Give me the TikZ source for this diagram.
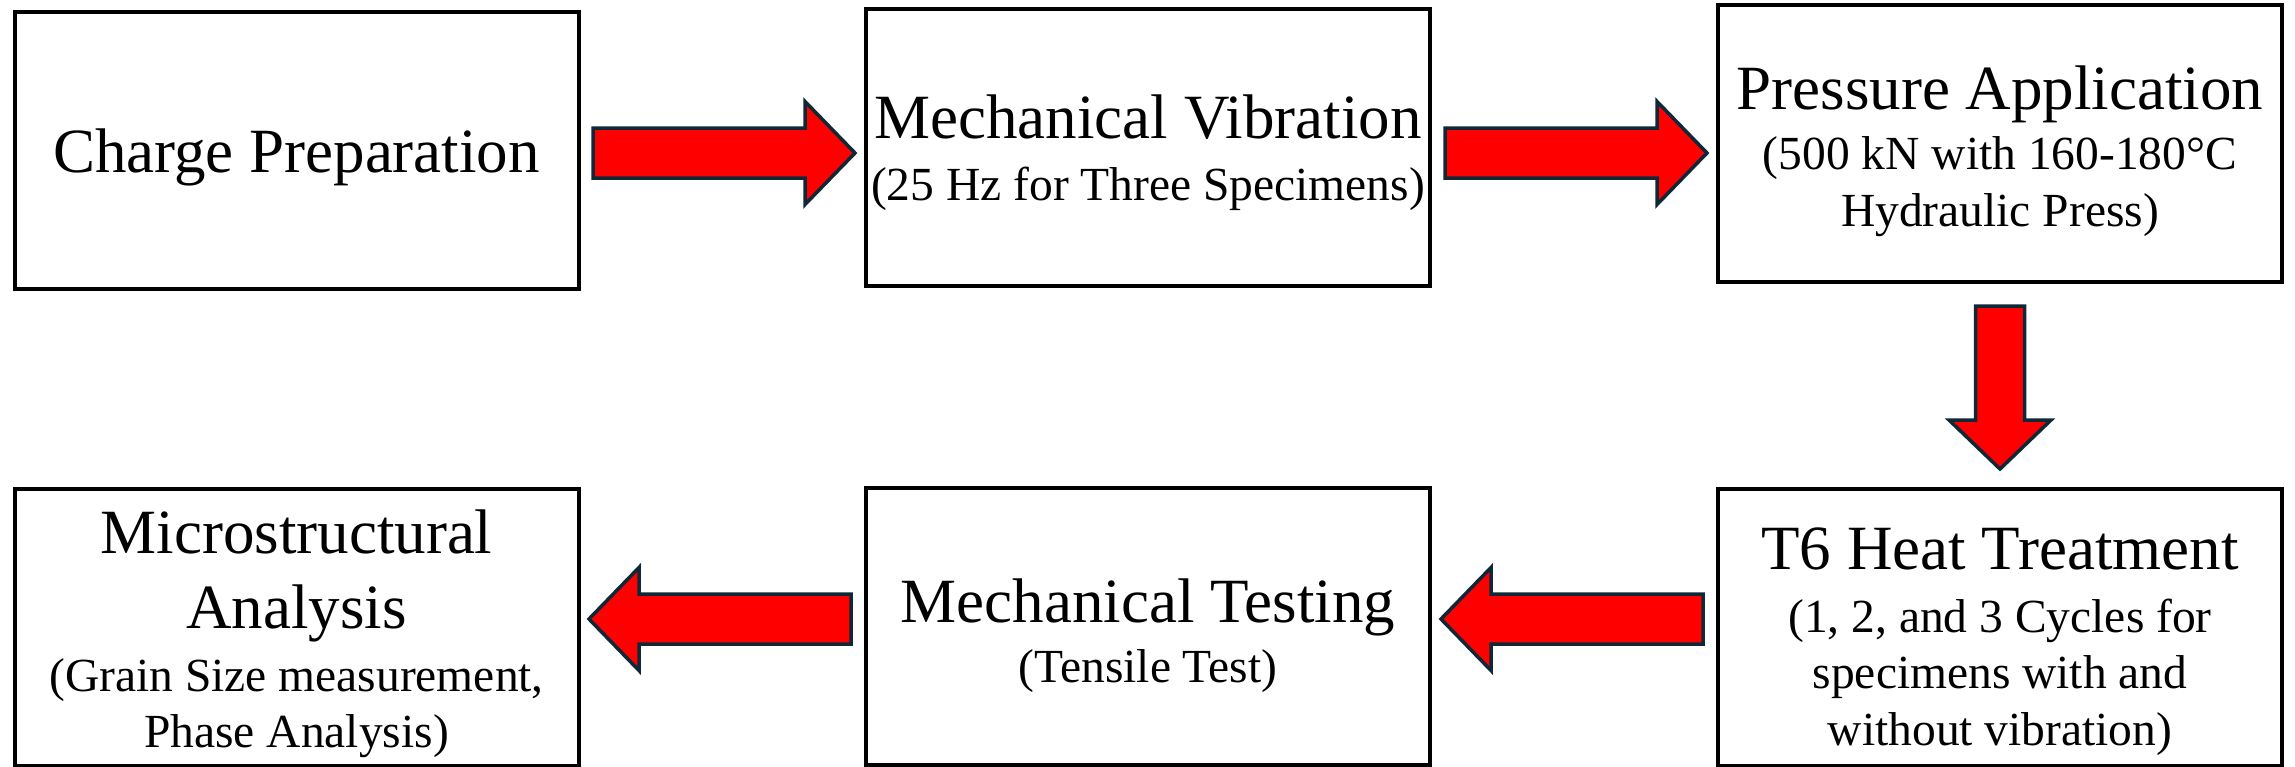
\documentclass[tikz,border=0pt]{standalone}
\usepackage{fontspec}
\setmainfont{Liberation Serif}
\usetikzlibrary{calc}
\definecolor{arrowred}{RGB}{255,0,0}
\definecolor{arrowedge}{RGB}{14,40,55}
\tikzset{
  stage/.style={draw=black, line width=4pt, minimum width=564pt,
    minimum height=277pt, inner sep=0pt, fill=white},
  ttl/.style={anchor=base, inner sep=0pt, font=\fontsize{63}{63}\selectfont},
  sub/.style={anchor=base, inner sep=0pt, font=\fontsize{47.5}{47.5}\selectfont},
  flow/.style={fill=arrowred, draw=arrowedge, line width=3.5pt, line join=miter},
}
\begin{document}
\begin{tikzpicture}[x=1pt, y=-1pt]
\useasboundingbox (0,0) rectangle (2295,766);
\fill[white] (0,0) rectangle (2295,766);

% process stages
\node[stage] (b1) at (296.5,150.5) {};
\node[stage] (b2) at (1148,147) {};
\node[stage] (b3) at (2000,143) {};
\node[stage] (b4) at (296.5,627) {};
\node[stage] (b5) at (1148,626.5) {};
\node[stage] (b6) at (2000,627.5) {};

% stage labels
\node[ttl] (t1) at (296.5,172) {Charge Preparation};

\node[ttl] (t2) at (1148,138) {Mechanical Vibration};
\node[sub] (s2) at (1148,200) {(25 Hz for Three Specimens)};

\node[ttl] (t3) at (2000,109) {Pressure Application};
\node[sub] (s3a) at (2000,169) {(500 kN with 160-180°C};
\node[sub] (s3b) at (2000,226) {Hydraulic Press)};

\node[ttl] (t4a) at (296.5,553) {Microstructural};
\node[ttl] (t4b) at (296.5,628) {Analysis};
\node[sub] (s4a) at (296.5,691) {(Grain Size measurement,};
\node[sub] (s4b) at (296.5,747) {Phase Analysis)};

\node[ttl] (t5) at (1148,622) {Mechanical Testing};
\node[sub] (s5) at (1148,682) {(Tensile Test)};

\node[ttl] (t6) at (2000,569) {T6 Heat Treatment};
\node[sub] (s6a) at (2000,632) {(1, 2, and 3 Cycles for};
\node[sub] (s6b) at (2000,688) {specimens with and};
\node[sub] (s6c) at (2000,745) {without vibration)};

% rows of the block arrows
\coordinate (r1) at (0,153);
\coordinate (r2) at (0,619);

% tail centres of the block arrows
\coordinate (a1) at ($(b1.east |- r1)+(12.5,0)$);
\coordinate (a2) at ($(b2.east |- r1)+(13,0)$);
\coordinate (a3) at ($(b3.south)+(0,22.5)$);
\coordinate (a4) at ($(b6.west |- r2)+(-13,0)$);
\coordinate (a5) at ($(b5.west |- r2)+(-13,0)$);

% right-pointing arrows
\draw[flow] (a1) ++(0,-25) -- ++(212,0) -- ++(0,-26.5) -- ++(50,51.5)
  -- ++(-50,51.5) -- ++(0,-26.5) -- ++(-212,0) -- cycle;
\draw[flow] (a2) ++(0,-25) -- ++(212,0) -- ++(0,-26.5) -- ++(50,51.5)
  -- ++(-50,51.5) -- ++(0,-26.5) -- ++(-212,0) -- cycle;

% down-pointing arrow
\draw[flow] (a3) ++(-24.5,0) -- ++(0,114) -- ++(-26.5,0) -- ++(51,49)
  -- ++(51,-49) -- ++(-26.5,0) -- ++(0,-114) -- cycle;

% left-pointing arrows
\draw[flow] (a4) ++(0,-25) -- ++(-212,0) -- ++(0,-26.5) -- ++(-50,51.5)
  -- ++(50,51.5) -- ++(0,-26.5) -- ++(212,0) -- cycle;
\draw[flow] (a5) ++(0,-25) -- ++(-212,0) -- ++(0,-26.5) -- ++(-50,51.5)
  -- ++(50,51.5) -- ++(0,-26.5) -- ++(212,0) -- cycle;
\end{tikzpicture}
\end{document}
